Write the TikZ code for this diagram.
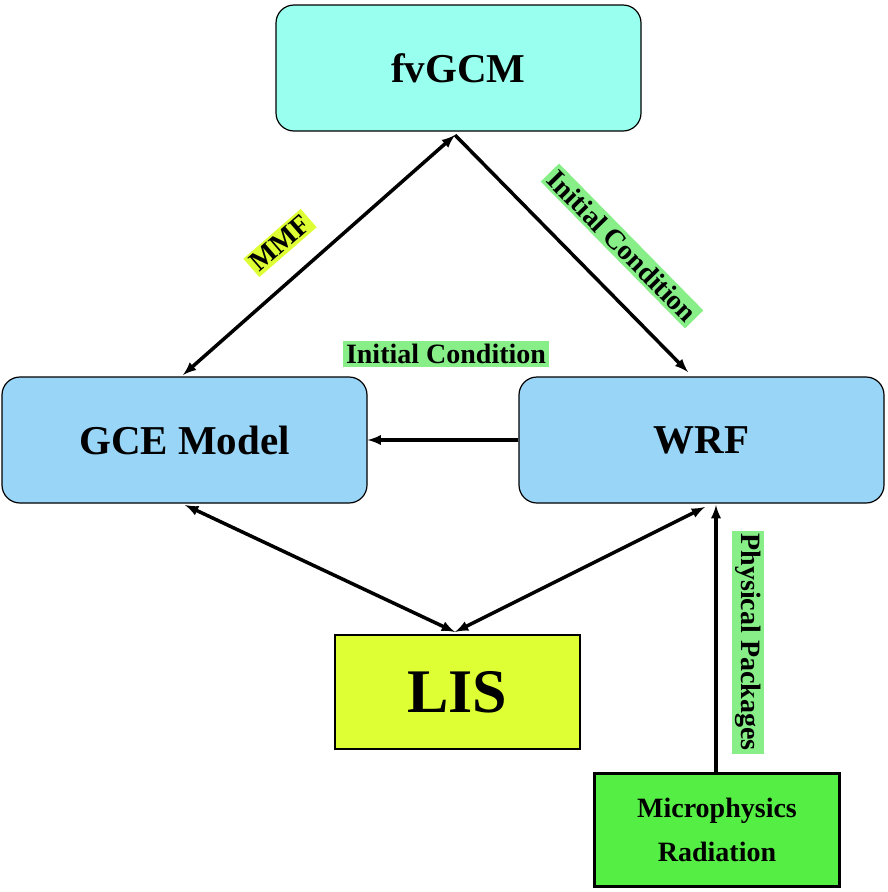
\documentclass[tikz,border=0pt]{standalone}
\usepackage{fontspec}
\setmainfont{Liberation Serif}
\usetikzlibrary{arrows}
\definecolor{gcmcyan}{HTML}{99FFEE}
\definecolor{modelblue}{HTML}{99D5F7}
\definecolor{lisyellow}{HTML}{DDFF33}
\definecolor{physgreen}{HTML}{55EE44}
\definecolor{labelgreen}{HTML}{88EE88}
\begin{document}
\begin{tikzpicture}[x=1pt,y=-1pt]
      \tikzset{model box/.style={draw=black,line width=1.2pt,rounded corners=18pt,
          fill=#1,minimum width=365pt,minimum height=126pt,inner sep=0pt,
          font=\fontsize{41}{44}\selectfont\bfseries},
        plain box/.style={draw=black,line width=2.5pt,fill=#1,inner sep=0pt,
          minimum width=245pt,minimum height=114pt},
        tag/.style={fill=#1,inner sep=3pt,font=\fontsize{28}{30}\selectfont\bfseries},
        link/.style={line width=3.5pt,>=latex}
      }
      \useasboundingbox (0,0) rectangle (888,892);
      \node [model box=gcmcyan] (fvGCM) at (458.5,68) {fvGCM};
      \node [model box=modelblue] (GCE) at (184.5,440) {GCE Model};
      \node [model box=modelblue] (WRF) at (701.5,440) {WRF};
      \node [plain box=lisyellow,font=\fontsize{62}{66}\selectfont\bfseries] (LIS) at (457.5,692) {LIS};
      \node [plain box=physgreen,minimum height=113pt,align=center,
        font=\fontsize{28}{44}\selectfont\bfseries] (Phys) at (717,830) {Microphysics\\Radiation};

      \coordinate (gcmtip) at (455,135);
      \coordinate (lisTop) at (455,632);
      \draw [link,<->] (gcmtip) -- (183,375);
      \draw [link,->] (gcmtip) -- (688,372);
      \draw [link,->] (WRF.west) -- (GCE.east);
      \draw [link,<->] (185,505) -- (lisTop);
      \draw [link,<->] (705,507) -- (lisTop);
      \draw [link,->] (Phys.north -| 716,0) -- (716,505);

      \node [tag=lisyellow,rotate=41] (mmf) at (280,243) {MMF};
      \node [tag=labelgreen,rotate=-45.5] (icRight) at (622,246) {Initial Condition};
      \node [tag=labelgreen] (icMid) at (446,354) {Initial Condition};
      \node [tag=labelgreen,rotate=-90] (pp) at (748,642) {Physical Packages};
    \end{tikzpicture}
\end{document}
